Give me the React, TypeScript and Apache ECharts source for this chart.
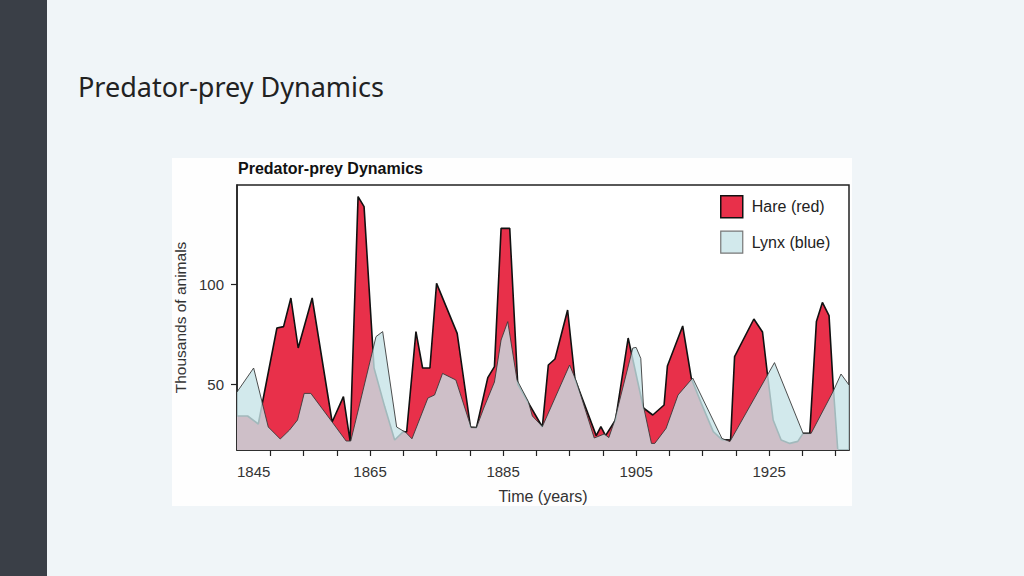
import React, { useEffect, useRef } from "react";
import * as echarts from "echarts";

// Hare population (thousands) — vertices
const hareYears = [
  1845, 1846.6, 1848.2, 1851, 1852, 1853.1, 1854.2, 1856.3, 1859.3, 1861, 1862,
  1863.2, 1864.1, 1865.6, 1867.2, 1868.7, 1870.0, 1870.5, 1871.9, 1872.9, 1874.0,
  1875.0, 1878.1, 1880.1, 1881.0, 1882.7, 1883.7, 1884.7, 1886.0, 1887.2, 1888.7,
  1890.9, 1891.8, 1892.8, 1894.7, 1895.8, 1899.0, 1899.7, 1900.4, 1901.9, 1903.8,
  1906.1, 1907.5, 1909.2, 1909.7, 1912.0, 1913.3, 1914.8, 1916.6, 1917.9, 1919.2,
  1919.8, 1922.7, 1924.0, 1924.7, 1925.6, 1926.8, 1928.1, 1929.3, 1930.1, 1931.1,
  1932.1, 1933.0, 1934.0, 1934.6, 1935.3,
];
const hareThousands = [
  34, 34, 30, 78, 78.7, 93, 68, 93, 31, 43.7, 21.5,
  143.7, 138.7, 58, 38.7, 22, 26.2, 26, 76.2, 58, 58,
  100.3, 75.3, 28.5, 28.2, 53.2, 58.7, 127.8, 127.8, 50, 41.2,
  28.5, 59.5, 62.5, 87, 52.5, 24.2, 28.7, 24.2, 32, 73,
  38, 34.5, 39.5, 59, 79, 52.8, 40.3, 26.2, 22.2, 22,
  63.7, 82.5, 76, 56, 32, 22, 20.3, 21.3, 25.3, 25.3,
  81.2, 90.8, 84.2, 50.3, 17.5,
];

// Lynx population (thousands)
const lynxYears = [
  1845, 1847.5, 1849.7, 1851.5, 1852.9, 1854.1, 1855.1, 1856.1, 1859.3, 1861.4,
  1862.1, 1865.9, 1866.9, 1869.0, 1870.4, 1871.3, 1873.7, 1874.7, 1875.9, 1877.9,
  1880.2, 1881.0, 1882.1, 1883.7, 1884.7, 1885.7, 1887.1, 1888.8, 1889.4, 1890.9,
  1895.0, 1896.0, 1898.7, 1900.2, 1900.9, 1901.7, 1904.5, 1905.0, 1905.7, 1906.1,
  1907.3, 1907.8, 1909.5, 1911.3, 1913.5, 1917.9, 1919.1, 1925.8, 1930.1, 1931.3,
  1934.6, 1935.8, 1937,
];
const lynxThousands = [
  46, 58, 28.5, 22.5, 27, 32, 45.3, 45.3, 31, 21.5,
  21.5, 73.7, 76.2, 28.5, 25.7, 22.6, 43, 44.5, 55.3, 52,
  28.2, 28.2, 38, 51, 72, 81.2, 52, 41.2, 34, 28.7,
  59.5, 51.5, 23, 25, 23.2, 31, 68, 68.3, 62.8, 39,
  20.3, 20.3, 27.8, 44.5, 53, 22.8, 21.2, 60.7, 25.3, 25.3,
  46.2, 55, 49.5,
];

const xTickYears = [1850, 1855, 1860, 1865, 1870, 1875, 1880, 1885, 1890, 1895, 1900, 1905, 1910, 1915, 1920, 1925, 1930, 1935];
const xLabelYears = [1845, 1865, 1885, 1905, 1925];
const yTicks = [50, 100];

const pageTitle = "Predator-prey Dynamics";
const chartTitle = "Predator-prey Dynamics";
const hareName = "Hare (red)";
const lynxName = "Lynx (blue)";

const FONT = "'Liberation Sans', Arial, sans-serif";

export default function App() {
  const ref = useRef<HTMLDivElement>(null);
  useEffect(() => {
    if (!ref.current) return;
    const chart = echarts.init(ref.current, null, { renderer: "svg" });
    const hareData = hareYears.map((y, i) => [y, hareThousands[i]]);
    const lynxData = lynxYears.map((y, i) => [y, lynxThousands[i]]);
    chart.setOption({
      animation: false,
      backgroundColor: "#f0f5f8",
      textStyle: { fontFamily: FONT },
      graphic: [
        { type: "rect", left: 0, top: 0, shape: { width: 47, height: 576 }, style: { fill: "#3a3f47" }, z: -10 },
        { type: "rect", left: 172, top: 158, shape: { width: 680, height: 348 }, style: { fill: "#fefefe" }, z: -10 },
      ],
      title: [
        {
          text: pageTitle,
          left: 73,
          top: 68,
          textStyle: { fontFamily: "'Noto Sans', sans-serif", fontSize: 27, fontWeight: "normal", color: "#222" },
        },
        {
          text: chartTitle,
          left: 233,
          top: 155,
          textStyle: { fontFamily: FONT, fontSize: 16, fontWeight: "bold", color: "#111" },
        },
      ],
      legend: {
        left: 715,
        top: 190,
        orient: "vertical",
        icon: "rect",
        itemWidth: 22,
        itemGap: 12,
        itemHeight: 22,
        textStyle: { fontFamily: FONT, fontSize: 16, color: "#222", padding: [0, 0, 0, 4] },
        data: [
          { name: hareName, itemStyle: { color: "#e8304a", borderColor: "#111", borderWidth: 1.5 } },
          { name: lynxName, itemStyle: { color: "#d2e9ec", borderColor: "#777", borderWidth: 1.2 } },
        ],
      },
      grid: {
        left: 237,
        top: 185,
        width: 612,
        height: 265,
        show: true,
        borderColor: "#222",
        borderWidth: 1.5,
        backgroundColor: "#ffffff",
      },
      xAxis: {
        type: "value",
        min: 1845,
        max: 1937,
        name: "Time (years)",
        nameLocation: "middle",
        nameGap: 38,
        nameTextStyle: { fontFamily: FONT, fontSize: 16, color: "#333" },
        axisLine: { show: true, lineStyle: { color: "#222", width: 1.5 } },
        axisTick: { show: true, length: 6, customValues: xTickYears, lineStyle: { color: "#222", width: 1.2 } },
        axisLabel: {
          customValues: xLabelYears,
          alignMinLabel: "left",
          margin: 14,
          fontFamily: FONT,
          fontSize: 15,
          color: "#333",
          formatter: (v: number) => String(v),
        },
        splitLine: { show: false },
      },
      yAxis: {
        type: "value",
        min: 17,
        max: 149.5,
        name: "Thousands of animals",
        nameLocation: "middle",
        nameGap: 49,
        nameTextStyle: { fontFamily: FONT, fontSize: 15.5, color: "#333" },
        axisLine: { show: true, lineStyle: { color: "#222", width: 1.5 } },
        axisTick: { show: true, length: 6, customValues: yTicks, lineStyle: { color: "#222", width: 1.2 } },
        axisLabel: {
          customValues: yTicks,
          margin: 13,
          fontFamily: FONT,
          fontSize: 15,
          color: "#333",
        },
        splitLine: { show: false },
      },
      series: [
        {
          name: hareName,
          type: "line",
          data: hareData,
          symbol: "none",
          lineStyle: { color: "#111", width: 1.6 },
          itemStyle: { color: "#e8304a" },
          areaStyle: { color: "#e8304a", opacity: 1, origin: "start" },
          z: 2,
        },
        {
          name: lynxName,
          type: "line",
          data: lynxData,
          symbol: "none",
          lineStyle: { color: "#3a3a3a", width: 0.9 },
          itemStyle: { color: "#d2e9ec" },
          areaStyle: { color: "rgb(199,227,231)", opacity: 0.8, origin: "start" },
          z: 3,
        },
      ],
    });
    return () => chart.dispose();
  }, []);
  return <div ref={ref} style={{ position: "absolute", left: 0, top: 0, width: 1024, height: 576 }} />;
}
